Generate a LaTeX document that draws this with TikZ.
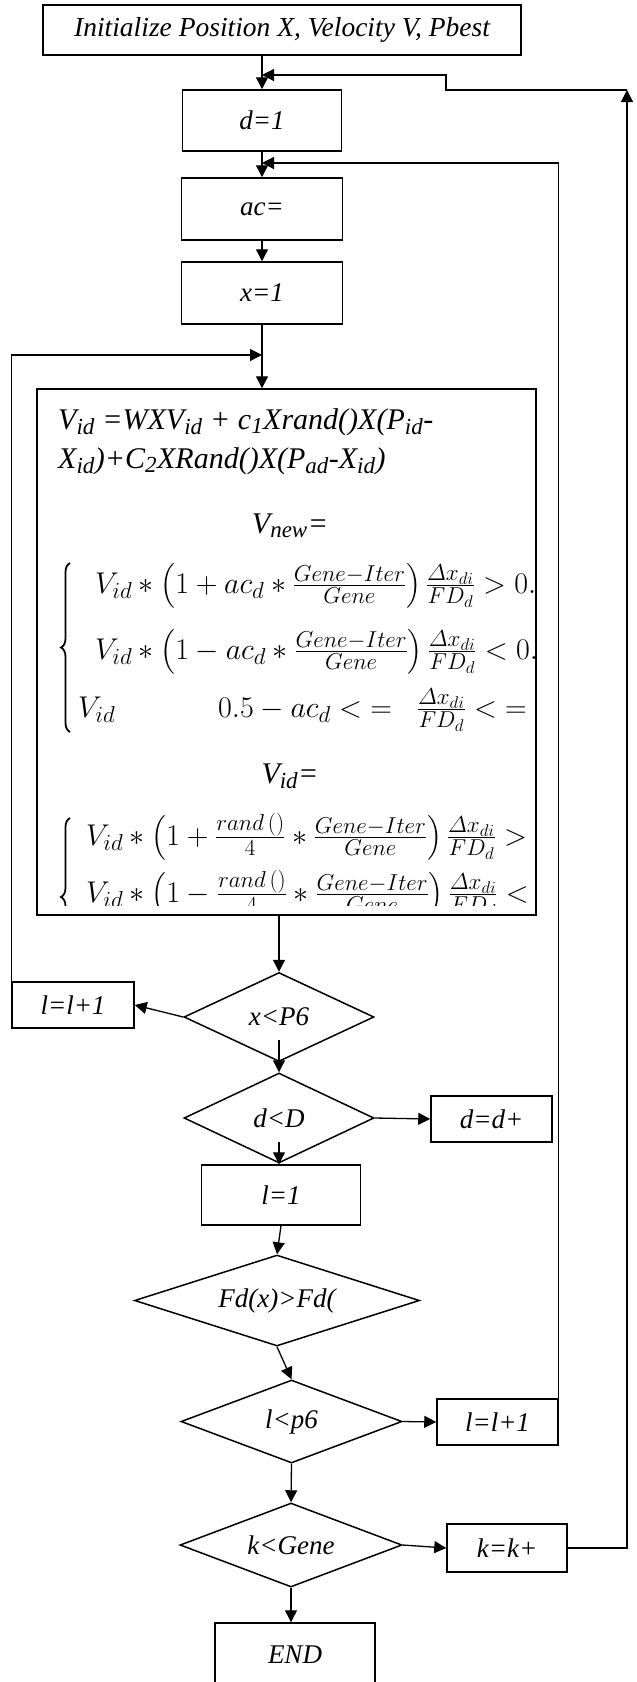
\RequirePackage{fix-cm}
\documentclass[tikz,border=0pt]{standalone}
\usepackage{amsmath}
\usepackage{fontspec}
\setmainfont{Liberation Serif}
\DeclareMathSizes{30}{30}{23}{17}
\usetikzlibrary{arrows.meta,shapes.geometric,calc,decorations.pathreplacing}
\begin{document}
\begin{tikzpicture}[x=1pt,y=-1pt,
  every node/.style={font=\fontsize{27}{32}\selectfont\itshape},
  box/.style={draw, line width=1.5pt, inner sep=0pt},
  dia/.style={draw, diamond, line width=1.5pt, inner sep=0pt},
  arr/.style={line width=1.3pt, -{Triangle[length=12pt,width=12pt]}},
  ftxt/.style={font=\fontsize{30}{36}\selectfont\itshape, inner sep=0pt},
  mrow/.style={font=\fontsize{30}{34}\selectfont, inner sep=0pt, anchor=base west},
  curly/.style={decorate, decoration={brace, amplitude=9pt, aspect=0.5}, line width=1.8pt}
]
\clip (0,0) rectangle (637,1682);
% nodes
\node[box, minimum width=478pt, minimum height=50pt, font=\fontsize{27.5}{32}\selectfont\itshape] (init) at (282,30) {Initialize Position X, Velocity V, Pbest};
\node[box, minimum width=159pt, minimum height=61pt] (d1) at (262,120.5) {d=1};
\node[box, minimum width=161pt, minimum height=62pt] (ac) at (262,209) {ac=};
\node[box, minimum width=161pt, minimum height=62pt] (x1) at (262,293) {x=1};
\node[box, minimum width=499pt, minimum height=526pt] (main) at (286.5,652) {};
\node[dia, aspect=2.13, minimum width=190pt, minimum height=89pt] (xp6) at (279,1017) {x<P6};
\node[box, minimum width=122pt, minimum height=46pt] (ll) at (73,1005) {l=l+1};
\node[dia, aspect=2.11, minimum width=190pt, minimum height=90pt] (dD) at (279,1118) {d<D};
\node[box, minimum width=121pt, minimum height=46pt] (dd) at (491.5,1119) {d=d+};
\node[box, minimum width=159pt, minimum height=60pt] (l1) at (281,1195) {l=1};
\node[dia, aspect=3.13, minimum width=285pt, minimum height=91pt] (Fd) at (277,1300.5) {Fd(x)>Fd(};
\node[dia, aspect=2.66, minimum width=221pt, minimum height=83pt] (lp) at (291.5,1421.5) {l<p6};
\node[box, minimum width=121pt, minimum height=46pt] (lr) at (497.5,1422) {l=l+1};
\node[dia, aspect=2.64, minimum width=222pt, minimum height=84pt] (kG) at (291,1545) {k<Gene};
\node[box, minimum width=120pt, minimum height=48pt] (kk) at (507,1548) {k=k+};
\node[box, minimum width=160pt, minimum height=64pt] (END) at (295,1655) {END};
% formula block, clipped by the box
\begin{scope}
\clip (38,390) rectangle (535,905);
\node[ftxt, anchor=base west] (f1) at (58,429) {V\textsubscript{id} =WXV\textsubscript{id} + c\textsubscript{1}Xrand()X(P\textsubscript{id}-};
\node[ftxt, anchor=base west] (f2) at (58,468) {X\textsubscript{id})+C\textsubscript{2}XRand()X(P\textsubscript{ad}-X\textsubscript{id})};
\node[ftxt, anchor=base] (f3) at (290,533) {V\textsubscript{new}=};
\draw[curly] (70,732) -- (70,563);
\node[mrow] (r1) at (95,593) {$V_{id} \ast \left(1 + ac_d \ast \frac{Gene-Iter}{Gene}\right) \frac{\varDelta x_{di}}{FD_d} > 0.5+ac_d$};
\node[mrow] (r2) at (95,659) {$V_{id} \ast \left(1 - ac_d \ast \frac{Gene-Iter}{Gene}\right) \frac{\varDelta x_{di}}{FD_d} < 0.5-ac_d$};
\node[mrow] (r3a) at (78,717) {$V_{id}$};
\node[mrow] (r3b) at (218,717) {$0.5 - ac_d <\;=\;\; \frac{\varDelta x_{di}}{FD_d} <\;=\;\; 0.5+ac_d$};
\node[ftxt, anchor=base] (f7) at (290,783) {V\textsubscript{id}=};
\draw[curly] (70,976) -- (70,818);
\node[mrow] (r4) at (86,845) {$V_{id} \ast \left(1 + \frac{rand\,()}{4} \ast \frac{Gene-Iter}{Gene}\right) \frac{\varDelta x_{di}}{FD_d} > 0.5$};
\node[mrow] (r5) at (86,902) {$V_{id} \ast \left(1 - \frac{rand\,()}{4} \ast \frac{Gene-Iter}{Gene}\right) \frac{\varDelta x_{di}}{FD_d} < 0.5$};
\end{scope}
% coordinates
\coordinate (J1) at (262,355);
\coordinate (J2) at (262,163);
\coordinate (J3) at (262,75);
\coordinate (C1) at (627,90);
\coordinate (C2) at (446,90);
\coordinate (C3) at (446,75);
% connectors
\draw[arr] (init.south -| d1.north) -- (d1.north);
\draw[arr] (d1.south) -- (ac.north);
\draw[arr] (ac.south) -- (x1.north);
\draw[arr] (x1.south) -- (x1.south |- main.north);
\draw[arr] (main.south -| xp6.north) -- (xp6.north);
\draw[arr] (xp6.west) -- (ll.east);
\draw[arr] (ll.north west) |- (J1);
\draw[arr] ([yshift=-23pt]xp6.center) -- (dD.north);
\draw[arr] (dD.east) -- (dd.west);
\draw[arr] ([yshift=-24pt]dD.center) -- (dD.center |- l1.north);
\draw[arr] (l1.south) -- (Fd.north);
\draw[arr] (Fd.south) -- (lp.north);
\draw[arr] (lp.east) -- (lr.west);
\draw[arr] (lr.north east) |- (J2);
\draw[arr] (lp.south) -- (kG.north);
\draw[arr] (kG.east) -- (kk.west);
\draw[arr] (kk.east) -| (C1);
\draw[arr] (C1) -- (C2) -- (C3) -- (J3);
\draw[arr] (kG.south) -- (kG.south |- END.north);
\end{tikzpicture}
\end{document}
